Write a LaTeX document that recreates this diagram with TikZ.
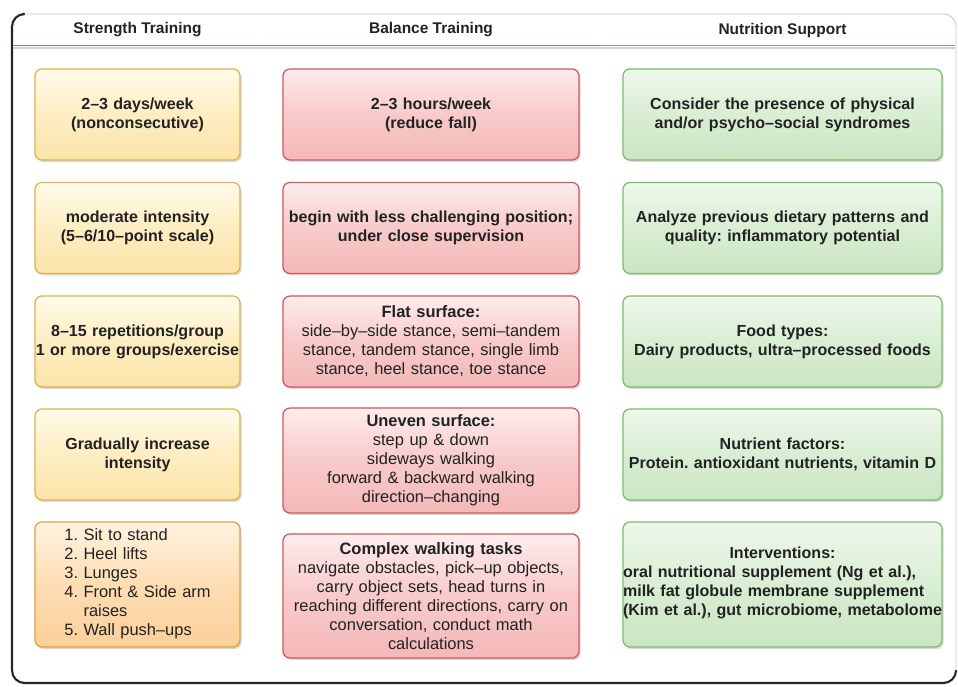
\documentclass[tikz,border=0pt]{standalone}
\usepackage{fontspec}
\setmainfont{Liberation Sans}
\usetikzlibrary{shadows}
\frenchspacing

\definecolor{txt}{HTML}{222222}
\definecolor{ytop}{HTML}{FFFBEA}
\definecolor{ymid}{HTML}{FDEDC2}
\definecolor{ybot}{HTML}{FBE4A8}
\definecolor{ydraw}{HTML}{E0B24C}
\definecolor{otop}{HTML}{FFF2E0}
\definecolor{omid}{HTML}{FDDDB2}
\definecolor{obot}{HTML}{FBD09A}
\definecolor{odraw}{HTML}{E4A03C}
\definecolor{rtop}{HTML}{FDECEC}
\definecolor{rmid}{HTML}{F8CACA}
\definecolor{rbot}{HTML}{F4B8B8}
\definecolor{rdraw}{HTML}{CD5A5A}
\definecolor{gtop}{HTML}{EEF7EB}
\definecolor{gmid}{HTML}{D9EED3}
\definecolor{gbot}{HTML}{CBE5C1}
\definecolor{gdraw}{HTML}{7DBE6B}
\definecolor{sepred}{HTML}{B4716B}
\definecolor{sepgreen}{HTML}{619C56}
\definecolor{sepblue}{HTML}{72A0C8}

\begin{document}
\begin{tikzpicture}[x=0.025cm,y=-0.025cm,
  card/.style={rounded corners=5pt,line width=0.9pt,inner sep=0pt,align=center,text=txt,
    drop shadow={shadow xshift=1.2pt,shadow yshift=-1.4pt,opacity=0.3}},
  plain/.style={font=\fontsize{11.7}{13.5}\selectfont},
  heavy/.style={font=\fontsize{11.4}{13.5}\selectfont\bfseries},
  strength/.style={card,heavy,draw=ydraw,top color=ytop,bottom color=ybot,middle color=ymid,
    text width=5.125cm,minimum height=2.275cm},
  exercises/.style={card,plain,draw=odraw,top color=otop,bottom color=obot,middle color=omid,
    text width=5.125cm,minimum height=3.125cm},
  balance/.style={card,plain,draw=rdraw,top color=rtop,bottom color=rbot,middle color=rmid,
    text width=7.4cm,minimum height=2.275cm},
  nutrition/.style={card,heavy,draw=gdraw,top color=gtop,bottom color=gbot,middle color=gmid,
    text width=7.975cm,minimum height=2.275cm},
  heading/.style={font=\fontsize{11}{13.5}\selectfont\bfseries,text=txt}]
\useasboundingbox (0,0) rectangle (958,686);

% frame and header
\draw[gray!45,line width=0.6pt,rounded corners=9pt] (12,14) rectangle (956,683);
\draw[black!85,line width=1.5pt,rounded corners=9pt] (22,14) -- (12,14) -- (12,683) -- (956,683) -- (956,672);
\draw[sepred,line width=1.2pt] (13,45.5) -- (262,45.5);
\draw[sepgreen,line width=1.2pt] (262,45.5) -- (600,45.5);
\draw[sepblue,line width=1.2pt] (600,45.5) -- (955,45.5);
\draw[gray!35,line width=2pt] (13,48) -- (955,48);
\node[heading] (hstr) at (137.5,30) {Strength Training};
\node[heading] (hbal) at (431,30) {Balance Training};
\node[heading] (hnut) at (782.5,30) {Nutrition Support};

% strength training
\node[strength] (str1) at (137.5,114.5) {2--3 days/week\\(nonconsecutive)};
\node[strength] (str2) at (137.5,228) {moderate intensity\\(5--6/10--point scale)};
\node[strength] (str3) at (137.5,341.5) {8--15 repetitions/group\\1 or more groups/exercise};
\node[strength] (str4) at (137.5,454.5) {Gradually increase\\intensity};
\node[exercises] (str5) at (137.5,584.5) {\begin{tabular}{@{}l@{ }l@{}}
  1.&Sit to stand\\ 2.&Heel lifts\\ 3.&Lunges\\ 4.&Front \& Side arm\\ &raises\\ 5.&Wall push--ups
  \end{tabular}};

% balance training
\node[balance,heavy] (bal1) at (431,114.5) {2--3 hours/week\\(reduce fall)};
\node[balance,heavy] (bal2) at (431,228) {begin with less challenging position;\\under close supervision};
\node[balance] (bal3) at (431,341.5) {\textbf{Flat surface:}\\side--by--side stance, semi--tandem\\stance, tandem stance, single limb\\stance, heel stance, toe stance};
\node[balance,minimum height=2.625cm] (bal4) at (431,460.5) {\textbf{Uneven surface:}\\step up \& down\\sideways walking\\forward \& backward walking\\direction--changing};
\node[balance,minimum height=3.1cm] (bal5) at (431,596) {\textbf{Complex walking tasks}\\navigate obstacles, pick--up objects,\\carry object sets, head turns in\\reaching different directions, carry on\\conversation, conduct math\\calculations};

% nutrition support
\node[nutrition] (nut1) at (782.5,114.5) {Consider the presence of physical\\and/or psycho--social syndromes};
\node[nutrition] (nut2) at (782.5,228) {Analyze previous dietary patterns and\\quality: inflammatory potential};
\node[nutrition] (nut3) at (782.5,341.5) {Food types:\\Dairy products, ultra--processed foods};
\node[nutrition] (nut4) at (782.5,454.5) {Nutrient factors:\\Protein. antioxidant nutrients, vitamin D};
\node[nutrition,minimum height=3.125cm] (nut5) at (782.5,584.5) {Interventions:\\\begin{tabular}[t]{@{}l@{}}
  oral nutritional supplement (Ng et al.),\\ milk fat globule membrane supplement\\ (Kim et al.), gut microbiome, metabolome
  \end{tabular}};
\end{tikzpicture}
\end{document}
